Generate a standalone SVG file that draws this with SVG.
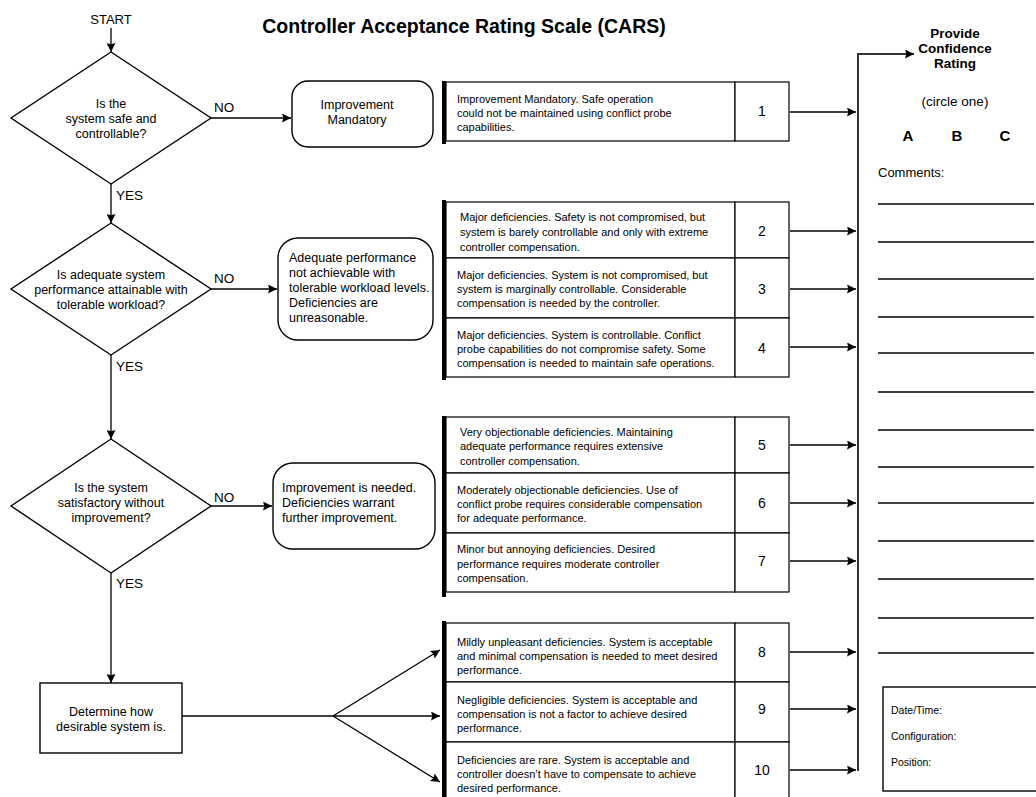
<svg xmlns="http://www.w3.org/2000/svg" width="1036" height="797" viewBox="0 0 1036 797">
<defs>
<marker id="ah" viewBox="0 0 10 10" refX="10" refY="5" markerWidth="11" markerHeight="9" markerUnits="userSpaceOnUse" orient="auto">
<path d="M0,0 L10,5 L0,10 L1.5,5 Z" fill="#000"/>
</marker>
<style>
text{font-family:"Liberation Sans",Arial,sans-serif;fill:#000}
.m{font-size:12.5px}
.c{text-anchor:middle}
.d{font-size:11px}
.n{font-size:14px;text-anchor:middle}
.lbl{font-size:13.5px}
.shape{fill:#fff;stroke:#000;stroke-width:1.4}
.cell{fill:#fff;stroke:#000;stroke-width:1.2}
.bar{fill:#000}
.conn line,.conn path{stroke:#000;stroke-width:1.3;fill:none}
.arr{marker-end:url(#ah)}
.rule{stroke:#000;stroke-width:1.3}
.b{font-weight:bold}
</style>
</defs>
<rect width="1036" height="797" fill="#fff"/>

<text x="464" y="33" class="c b" style="font-size:19.5px">Controller Acceptance Rating Scale (CARS)</text>
<text x="111" y="24" class="c" style="font-size:13px">START</text>

<g id="d1">
<polygon class="shape" points="111,52 211,118 111,184 11,118"/>
<text class="m c" x="111" y="108">Is the</text>
<text class="m c" x="111" y="123">system safe and</text>
<text class="m c" x="111" y="138">controllable?</text>
</g>
<g id="d2">
<polygon class="shape" points="111,223 211,289 111,355 11,289"/>
<text class="m c" x="111" y="279">Is adequate system</text>
<text class="m c" x="111" y="294">performance attainable with</text>
<text class="m c" x="111" y="309">tolerable workload?</text>
</g>
<g id="d3">
<polygon class="shape" points="111,439 211,506 111,573 11,506"/>
<text class="m c" x="111" y="492">Is the system</text>
<text class="m c" x="111" y="507">satisfactory without</text>
<text class="m c" x="111" y="522">improvement?</text>
</g>
<g id="det">
<rect class="shape" x="40" y="683" width="142" height="70"/>
<text class="m c" x="111" y="716">Determine how</text>
<text class="m c" x="111" y="731">desirable system is.</text>
</g>

<g id="r1">
<rect class="shape" x="292" y="81" width="141" height="66" rx="16"/>
<text class="m c" x="357" y="109">Improvement</text>
<text class="m c" x="357" y="124">Mandatory</text>
</g>
<g id="r2">
<rect class="shape" x="278" y="238" width="155" height="102" rx="20"/>
<text class="m" x="289" y="262">Adequate performance</text>
<text class="m" x="289" y="277">not achievable with</text>
<text class="m" x="289" y="292">tolerable workload levels.</text>
<text class="m" x="289" y="307">Deficiencies are</text>
<text class="m" x="289" y="322">unreasonable.</text>
</g>
<g id="r3">
<rect class="shape" x="273" y="463" width="162" height="86" rx="20"/>
<text class="m" x="282" y="492">Improvement is needed.</text>
<text class="m" x="282" y="507">Deficiencies warrant</text>
<text class="m" x="282" y="522">further improvement.</text>
</g>

<g id="s1">
<rect class="bar" x="442" y="81" width="4" height="63"/>
<rect class="cell" x="446" y="82" width="289" height="59"/>
<rect class="cell" x="735" y="82" width="54" height="59"/>
<text class="d" x="457" y="103">Improvement Mandatory. Safe operation</text>
<text class="d" x="457" y="117">could not be maintained using conflict probe</text>
<text class="d" x="457" y="131">capabilities.</text>
<text class="n" x="762" y="116">1</text>
</g>

<g id="s2">
<rect class="bar" x="442" y="200" width="4" height="180"/>
<rect class="cell" x="446" y="202" width="289" height="56"/>
<rect class="cell" x="735" y="202" width="54" height="56"/>
<rect class="cell" x="446" y="258" width="289" height="60"/>
<rect class="cell" x="735" y="258" width="54" height="60"/>
<rect class="cell" x="446" y="318" width="289" height="59"/>
<rect class="cell" x="735" y="318" width="54" height="59"/>
<text class="d" x="460" y="221">Major deficiencies. Safety is not compromised, but</text>
<text class="d" x="460" y="236">system is barely controllable and only with extreme</text>
<text class="d" x="460" y="251">controller compensation.</text>
<text class="n" x="762" y="236">2</text>
<text class="d" x="457" y="279">Major deficiencies. System is not compromised, but</text>
<text class="d" x="457" y="293">system is marginally controllable. Considerable</text>
<text class="d" x="457" y="307">compensation is needed by the controller.</text>
<text class="n" x="762" y="294">3</text>
<text class="d" x="457" y="339">Major deficiencies. System is controllable. Conflict</text>
<text class="d" x="457" y="353">probe capabilities do not compromise safety. Some</text>
<text class="d" x="457" y="367">compensation is needed to maintain safe operations.</text>
<text class="n" x="762" y="353">4</text>
</g>

<g id="s3">
<rect class="bar" x="442" y="416" width="4" height="181"/>
<rect class="cell" x="446" y="417" width="289" height="56"/>
<rect class="cell" x="735" y="417" width="54" height="56"/>
<rect class="cell" x="446" y="473" width="289" height="60"/>
<rect class="cell" x="735" y="473" width="54" height="60"/>
<rect class="cell" x="446" y="533" width="289" height="59"/>
<rect class="cell" x="735" y="533" width="54" height="59"/>
<text class="d" x="460" y="436">Very objectionable deficiencies. Maintaining</text>
<text class="d" x="460" y="450">adequate performance requires extensive</text>
<text class="d" x="460" y="465">controller compensation.</text>
<text class="n" x="762" y="450">5</text>
<text class="d" x="457" y="494">Moderately objectionable deficiencies. Use of</text>
<text class="d" x="457" y="508">conflict probe requires considerable compensation</text>
<text class="d" x="457" y="522">for adequate performance.</text>
<text class="n" x="762" y="508">6</text>
<text class="d" x="457" y="553">Minor but annoying deficiencies. Desired</text>
<text class="d" x="457" y="568">performance requires moderate controller</text>
<text class="d" x="457" y="582">compensation.</text>
<text class="n" x="762" y="566">7</text>
</g>

<g id="s4">
<rect class="bar" x="442" y="621" width="4" height="176"/>
<rect class="cell" x="446" y="623" width="289" height="59"/>
<rect class="cell" x="735" y="623" width="54" height="59"/>
<rect class="cell" x="446" y="682" width="289" height="60"/>
<rect class="cell" x="735" y="682" width="54" height="60"/>
<rect class="cell" x="446" y="742" width="289" height="56"/>
<rect class="cell" x="735" y="742" width="54" height="56"/>
<text class="d" x="457" y="646">Mildly unpleasant deficiencies. System is acceptable</text>
<text class="d" x="457" y="660">and minimal compensation is needed to meet desired</text>
<text class="d" x="457" y="674">performance.</text>
<text class="n" x="762" y="657">8</text>
<text class="d" x="457" y="704">Negligible deficiencies. System is acceptable and</text>
<text class="d" x="457" y="718">compensation is not a factor to achieve desired</text>
<text class="d" x="457" y="732">performance.</text>
<text class="n" x="762" y="714">9</text>
<text class="d" x="457" y="764">Deficiencies are rare. System is acceptable and</text>
<text class="d" x="457" y="778">controller doesn’t have to compensate to achieve</text>
<text class="d" x="457" y="792">desired performance.</text>
<text class="n" x="762" y="775">10</text>
</g>

<g id="panel">
<text x="955" y="38" class="c b" style="font-size:13.5px">Provide</text>
<text x="955" y="53" class="c b" style="font-size:13.5px">Confidence</text>
<text x="955" y="68" class="c b" style="font-size:13.5px">Rating</text>
<text x="955" y="106" class="c" style="font-size:13.5px">(circle one)</text>
<text x="908" y="141" class="c b" style="font-size:15px">A</text>
<text x="957" y="141" class="c b" style="font-size:15px">B</text>
<text x="1005" y="141" class="c b" style="font-size:15px">C</text>
<text x="878" y="177" style="font-size:13px">Comments:</text>
<g class="rules">
<line class="rule" x1="878" y1="204" x2="1034" y2="204"/>
<line class="rule" x1="878" y1="242" x2="1034" y2="242"/>
<line class="rule" x1="878" y1="279" x2="1034" y2="279"/>
<line class="rule" x1="878" y1="317" x2="1034" y2="317"/>
<line class="rule" x1="878" y1="353" x2="1034" y2="353"/>
<line class="rule" x1="878" y1="392" x2="1034" y2="392"/>
<line class="rule" x1="878" y1="430" x2="1034" y2="430"/>
<line class="rule" x1="878" y1="467" x2="1034" y2="467"/>
<line class="rule" x1="878" y1="503" x2="1034" y2="503"/>
<line class="rule" x1="878" y1="541" x2="1034" y2="541"/>
<line class="rule" x1="878" y1="579" x2="1034" y2="579"/>
<line class="rule" x1="878" y1="618" x2="1034" y2="618"/>
<line class="rule" x1="878" y1="653" x2="1034" y2="653"/>
</g>
</g>
<g id="info">
<rect class="shape" x="883" y="687" width="160" height="104"/>
<text x="891" y="714" style="font-size:10.5px">Date/Time:</text>
<text x="891" y="740" style="font-size:10.5px">Configuration:</text>
<text x="891" y="766" style="font-size:10.5px">Position:</text>
</g>

<g id="labels">
<text class="lbl" x="214" y="112">NO</text>
<text class="lbl" x="214" y="283">NO</text>
<text class="lbl" x="214" y="502">NO</text>
<text class="lbl" x="116" y="200">YES</text>
<text class="lbl" x="116" y="371">YES</text>
<text class="lbl" x="116" y="588">YES</text>
</g>

<g class="conn" id="connectors">
<line class="arr" x1="111" y1="28" x2="111" y2="52"/>
<line class="arr" x1="111" y1="184" x2="111" y2="223"/>
<line class="arr" x1="111" y1="355" x2="111" y2="439"/>
<line class="arr" x1="111" y1="573" x2="111" y2="683"/>
<line class="arr" x1="211" y1="118" x2="291" y2="118"/>
<line class="arr" x1="211" y1="289" x2="277" y2="289"/>
<line class="arr" x1="211" y1="506" x2="272" y2="506"/>
<line x1="182" y1="716" x2="333" y2="716"/>
<line class="arr" x1="333" y1="716" x2="440" y2="650"/>
<line class="arr" x1="333" y1="716" x2="440" y2="716"/>
<line class="arr" x1="333" y1="716" x2="440" y2="782"/>
<line class="arr" x1="790" y1="112" x2="856" y2="112"/>
<line class="arr" x1="790" y1="231" x2="856" y2="231"/>
<line class="arr" x1="790" y1="289" x2="856" y2="289"/>
<line class="arr" x1="790" y1="347" x2="856" y2="347"/>
<line class="arr" x1="790" y1="445" x2="856" y2="445"/>
<line class="arr" x1="790" y1="503" x2="856" y2="503"/>
<line class="arr" x1="790" y1="561" x2="856" y2="561"/>
<line class="arr" x1="790" y1="652" x2="856" y2="652"/>
<line class="arr" x1="790" y1="709" x2="856" y2="709"/>
<line class="arr" x1="790" y1="770" x2="856" y2="770"/>
<path d="M858,771 L858,54 L914,54" style="stroke:#333;stroke-width:2" marker-end="url(#ah)"/>
</g>
</svg>
